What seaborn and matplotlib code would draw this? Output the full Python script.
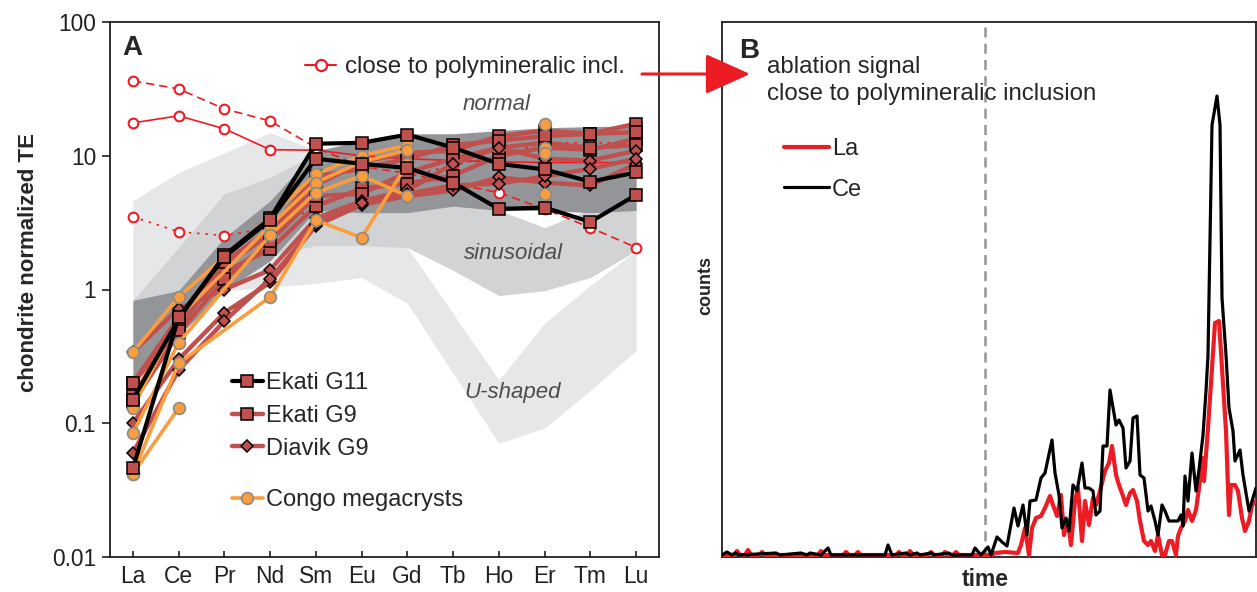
import numpy as np
import pandas as pd
import seaborn as sns
import matplotlib.pyplot as plt
from matplotlib.lines import Line2D
from matplotlib.patches import FancyArrowPatch

# --- panel A: chondrite normalized REE patterns ---
elements = ["La", "Ce", "Pr", "Nd", "Sm", "Eu", "Gd", "Tb", "Ho", "Er", "Tm", "Lu"]
ytick_vals = [0.01, 0.1, 1, 10, 100]
ytick_labels = ["0.01", "0.1", "1", "10", "100"]

# shaded reference fields (upper / lower limit per element)
ushaped_hi = [4.6, 7.5, 10.5, 14.9, 11.0, 5.0, 2.06, 0.66, 0.21, 0.56, 1.07, 1.95]
ushaped_lo = [0.83, 0.90, 0.98, 1.04, 1.11, 1.23, 0.79, 0.236, 0.071, 0.092, 0.176, 0.35]
sinus_hi = [0.83, 2.06, 5.2, 6.9, 10.4, 10.0, 10.0, 6.0, 3.9, 2.9, 4.0, 6.0]
sinus_lo = [0.30, 0.50, 1.0, 1.8, 2.13, 2.13, 2.06, 1.39, 0.90, 0.98, 1.23, 1.95]
normal_hi = [0.83, 0.98, 2.44, 4.6, 10.9, 12.9, 14.6, 14.6, 15.4, 16.2, 16.5, 16.8]
normal_lo = [0.22, 0.45, 0.98, 1.64, 3.9, 3.75, 3.75, 4.2, 3.9, 3.9, 3.75, 3.9]

ekati_g11 = [
    [0.15, 0.60, 1.8, 3.4, 12.3, 12.5, 14.4, 11.5, 8.7, 7.9, 6.4, 7.5],
    [0.046, 0.62, 1.75, 3.3, 9.5, 8.7, 8.1, 6.3, 4.0, 4.1, 3.2, 5.1],
]
ekati_g9 = [
    [0.20, 0.62, 1.5, 2.6, 6.0, 9.0, 10.5, 10.9, 14.0, 15.4, 14.6, 17.4],
    [0.16, 0.55, 1.35, 2.0, 4.2, 5.7, 6.2, 7.1, 10.0, 11.5, 11.1, 13.4],
    [0.143, 0.47, 1.2, 2.3, 5.0, 5.2, 7.5, 9.5, 11.5, 12.5, 11.5, 12.0],
    [0.20, 0.50, 1.6, 2.8, 7.0, 8.0, 9.5, 12.0, 13.0, 14.0, 14.6, 15.0],
]
diavik_g9 = [
    [0.34, 0.72, 1.0, 1.4, 3.4, 4.6, 5.5, 8.7, 11.5, 9.5, 9.2, 10.9],
    [0.10, 0.30, 0.67, 1.13, 3.0, 4.3, 5.0, 5.5, 6.9, 6.3, 6.0, 8.7],
    [0.06, 0.25, 0.58, 1.2, 3.1, 4.4, 5.2, 6.0, 6.2, 7.0, 8.0, 9.5],
]
nan = np.nan
congo = [
    [0.34, 0.88, nan, 3.5, 7.3, 10.0, 12.0, nan, nan, 17.4, nan, nan],
    [0.13, 0.62, nan, 3.0, 6.3, 9.0, 11.0, nan, nan, 11.5, nan, nan],
    [0.084, 0.40, nan, 2.55, 5.3, 7.1, 5.0, nan, nan, 10.5, nan, nan],
    [0.042, 0.28, nan, 0.88, 3.3, 2.44, 8.7, nan, nan, 5.2, nan, nan],
    [0.042, 0.13, nan, nan, nan, nan, nan, nan, nan, nan, nan, nan],
]
poly_solid = [17.6, 19.9, 15.9, 11.1, 11.0, 10.0, 9.5, 9.2, 9.0, 8.9, 8.9, 8.9]
poly_dashed = [36.3, 31.6, 22.4, 18.2, 11.5, 8.3, 7.4, 6.2, 5.3, 4.0, 2.9, 2.06]
poly_dotted = [3.5, 2.7, 2.53, 2.9, 4.1, 5.5, 7.0, 8.5, 10.0, 12.5, 12.5, 12.5]

# --- panel B: ablation signal (time, counts) ---
la_signal = [(0, 0), (12, 0), (15, 4), (18, 0), (23, 0), (26, 5), (29, 0), (37, 0), (40, 3), (43, 0),
             (96, 0), (99, 4), (102, 0), (121, 0), (124, 3), (127, 0), (133, 0), (136, 3), (139, 0),
             (174, 0), (177, 3), (180, 0), (185, 0), (188, 4), (191, 0), (206, 0), (209, 3), (212, 0),
             (220, 0), (223, 3), (226, 0), (231, 0), (234, 3), (237, 0), (270, 0), (273, 2), (283, 3),
             (296, 2), (299, 10), (303, 27), (307, 0), (310, 27), (314, 37), (319, 39), (323, 47),
             (328, 59), (331, 50), (335, 39), (339, 60), (342, 20), (346, 34), (349, 10), (353, 54),
             (356, 67), (360, 14), (363, 54), (367, 30), (371, 57), (374, 50), (378, 64), (383, 84),
             (387, 92), (390, 109), (394, 80), (397, 70), (401, 59), (404, 50), (408, 62), (411, 65),
             (415, 54), (418, 34), (422, 14), (426, 10), (429, 14), (433, 4), (436, 20), (440, 0),
             (443, 0), (447, 14), (450, 14), (454, 0), (456, 19), (459, 27), (463, 34), (466, 45),
             (470, 34), (474, 45), (477, 67), (481, 97), (482, 74), (486, 127), (490, 187), (493, 232),
             (497, 234), (500, 187), (504, 124), (506, 67), (507, 40), (509, 70), (513, 70), (516, 64),
             (520, 37), (523, 24), (527, 34), (530, 50), (534, 54)]
ce_signal = [(0, 0), (5, 3), (10, 0), (13, 2), (17, 0), (54, 2), (58, 0), (79, 2), (85, 0), (88, 2),
             (99, 0), (106, 7), (109, 0), (163, 0), (166, 10), (170, 0), (184, 2), (188, 0), (195, 2),
             (198, 0), (209, 2), (212, 0), (227, 2), (230, 0), (250, 0), (253, 7), (259, 0), (266, 8),
             (269, 0), (275, 18), (280, 13), (285, 9), (292, 47), (296, 29), (301, 50), (305, 20),
             (308, 54), (314, 55), (319, 77), (323, 82), (330, 115), (333, 82), (337, 60), (340, 27),
             (344, 37), (347, 24), (351, 70), (355, 64), (360, 92), (363, 67), (367, 67), (371, 64),
             (374, 40), (378, 44), (381, 109), (385, 109), (388, 165), (394, 130), (397, 135),
             (401, 127), (404, 87), (408, 94), (411, 137), (415, 139), (418, 80), (422, 77), (426, 44),
             (429, 49), (433, 34), (436, 20), (440, 50), (443, 44), (447, 34), (456, 34), (459, 40),
             (461, 29), (463, 79), (466, 54), (470, 102), (474, 64), (477, 85), (481, 120), (484, 164),
             (486, 200), (490, 430), (495, 459), (498, 430), (500, 257), (504, 200), (507, 147),
             (511, 124), (513, 94), (518, 105), (521, 80), (527, 44), (530, 54), (534, 67)]
inclusion_start = 263

# --- style ---
sns.set_theme(style="white")
plt.rcParams["font.family"] = ["Liberation Sans", "DejaVu Sans"]
plt.rcParams["axes.edgecolor"] = "#231f20"
plt.rcParams["axes.linewidth"] = 1.3
plt.rcParams["xtick.color"] = "#231f20"
plt.rcParams["ytick.color"] = "#231f20"
plt.rcParams["xtick.bottom"] = True
plt.rcParams["ytick.left"] = True

brown = "#c0504d"
orange = "#f99d3e"
red = "#ed1c24"

fig = plt.figure(figsize=(12.57, 5.92), dpi=100)
axA = fig.add_axes([110 / 1257, 35 / 592, 549 / 1257, 535 / 592])
axB = fig.add_axes([722 / 1257, 35 / 592, 534 / 1257, 535 / 592])

x = np.arange(len(elements))

# fields
axA.fill_between(x, ushaped_lo, ushaped_hi, color="#e6e7e8", lw=0, zorder=1)
axA.fill_between(x, sinus_lo, sinus_hi, color="#d1d3d4", lw=0, zorder=1.1)
axA.fill_between(x, normal_lo, normal_hi, color="#939598", lw=0, zorder=1.2)

for vals, ls in [(poly_solid, "-"), (poly_dashed, (0, (5, 3))), (poly_dotted, (0, (1.5, 3.5)))]:
    axA.plot(x, vals, color=red, lw=1.2, ls=ls, marker="o", ms=7, mfc="white", mec=red, mew=1.5, zorder=2.5)

for s in ekati_g9:
    axA.plot(x, s, color=brown, lw=3.2, marker="s", ms=8.5, mfc=brown, mec="black", mew=1.1, zorder=3)
for s in diavik_g9:
    axA.plot(x, s, color=brown, lw=3.2, marker="D", ms=6.5, mfc=brown, mec="black", mew=1.1, zorder=3)

for s in congo:
    s = np.array(s)
    head = np.where(np.isfinite(s[:7]))[0]
    axA.plot(x[head], s[head], color=orange, lw=2.6, marker="o", ms=8.5, mfc=orange, mec="#8a8a8a",
             mew=1.2, zorder=4)
    axA.plot(x[9:10], s[9:10], ls="none", marker="o", ms=8.5, mfc=orange, mec="#8a8a8a", mew=1.2, zorder=4)

for s in ekati_g11:
    axA.plot(x, s, color="black", lw=3, marker="s", ms=8.5, mfc=brown, mec="black", mew=1.1, zorder=5)

axA.set_yscale("log")
axA.set_ylim(0.01, 100)
axA.set_xlim(-0.5, 11.5)
axA.set_yticks(ytick_vals)
axA.set_yticklabels(ytick_labels)
axA.minorticks_off()
axA.set_xticks(x)
axA.set_xticklabels(elements)
axA.tick_params(axis="y", which="major", direction="out", length=6, width=1.2, labelsize=16.4, pad=4,
                left=True, color="#231f20")
axA.tick_params(axis="x", which="major", direction="in", length=4, width=1.2, labelsize=16.4, pad=6,
                bottom=True, color="#231f20")
axA.set_ylabel("chondrite normalized TE", fontsize=16, fontweight="bold")
axA.yaxis.set_label_coords(-0.13, 0.551)

axA.text(0.022, 0.976, "A", transform=axA.transAxes, fontsize=20, fontweight="bold", va="top", ha="left")
lab = dict(fontsize=16, style="italic", color="#4d4d4f", ha="center", va="center", zorder=6)
axA.text(7.96, 24, "normal", **lab)
axA.text(8.33, 1.86, "sinusoidal", **lab)
axA.text(8.31, 0.17, "U-shaped", **lab)

h_poly = Line2D([], [], color=red, lw=1.5, marker="o", ms=8, mfc="white", mec=red, mew=1.6)
leg1 = axA.legend([h_poly], ["close to polymineralic incl."], loc="upper left", bbox_to_anchor=(0.355, 0.936),
                  frameon=False, fontsize=17.4, handlelength=1.3, handletextpad=0.35, borderpad=0,
                  borderaxespad=0)
axA.add_artist(leg1)
h_g11 = Line2D([], [], color="black", lw=3, marker="s", ms=8.5, mfc=brown, mec="black", mew=1.1)
h_g9 = Line2D([], [], color=brown, lw=3.2, marker="s", ms=8.5, mfc=brown, mec="black", mew=1.1)
h_dv = Line2D([], [], color=brown, lw=3.2, marker="D", ms=6.5, mfc=brown, mec="black", mew=1.1)
leg2 = axA.legend([h_g11, h_g9, h_dv], ["Ekati G11", "Ekati G9", "Diavik G9"], loc="upper left",
                  bbox_to_anchor=(0.222, 0.345), frameon=False, fontsize=17, handlelength=1.3,
                  handletextpad=0.15, labelspacing=0.45, borderpad=0, borderaxespad=0)
axA.add_artist(leg2)
h_cg = Line2D([], [], color=orange, lw=2.6, marker="o", ms=8.5, mfc=orange, mec="#8a8a8a", mew=1.2)
axA.legend([h_cg], ["Congo megacrysts"], loc="upper left", bbox_to_anchor=(0.222, 0.127), frameon=False,
           fontsize=17, handlelength=1.3, handletextpad=0.15, borderpad=0, borderaxespad=0)

# --- panel B ---
la = pd.DataFrame(la_signal, columns=["time", "counts"])
ce = pd.DataFrame(ce_signal, columns=["time", "counts"])
sns.lineplot(data=la, x="time", y="counts", estimator=None, sort=False, color=red, lw=3, ax=axB, zorder=3)
sns.lineplot(data=ce, x="time", y="counts", estimator=None, sort=False, color="black", lw=2.3, ax=axB, zorder=4)
axB.axvline(inclusion_start, color="#939598", lw=1.8, dashes=(4, 2.5), zorder=2)
axB.set_xlim(0, 534)
axB.set_ylim(-2, 533)
axB.set_xticks([])
axB.set_yticks([])
axB.set_xlabel("time", fontsize=16.5, fontweight="bold")
axB.xaxis.set_label_coords(0.4925, -0.021)
axB.set_ylabel("counts", fontsize=13, fontweight="bold")
axB.yaxis.set_label_coords(-0.015, 0.508)
axB.text(0.032, 0.970, "B", transform=axB.transAxes, fontsize=20, fontweight="bold", va="top", ha="left")
axB.text(0.084, 0.936, "ablation signal\nclose to polymineralic inclusion", transform=axB.transAxes,
         fontsize=17.3, va="top", ha="left", linespacing=1.28)
h_la = Line2D([], [], color=red, lw=3)
h_ce = Line2D([], [], color="black", lw=2.3)
axB.legend([h_la, h_ce], ["La", "Ce"], loc="upper left", bbox_to_anchor=(0.116, 0.783), frameon=False,
           fontsize=17, handlelength=1.9, handletextpad=0.13, labelspacing=0.78, borderpad=0,
           borderaxespad=0)

arrow = FancyArrowPatch((642 / 1257, 1 - 74 / 592), (750 / 1257, 1 - 74 / 592), transform=fig.transFigure,
                        arrowstyle="-|>,head_length=1.0,head_width=0.45", mutation_scale=28, color=red,
                        lw=2.2, shrinkA=0, shrinkB=0)
fig.add_artist(arrow)

fig.savefig("out.png", dpi=100)
